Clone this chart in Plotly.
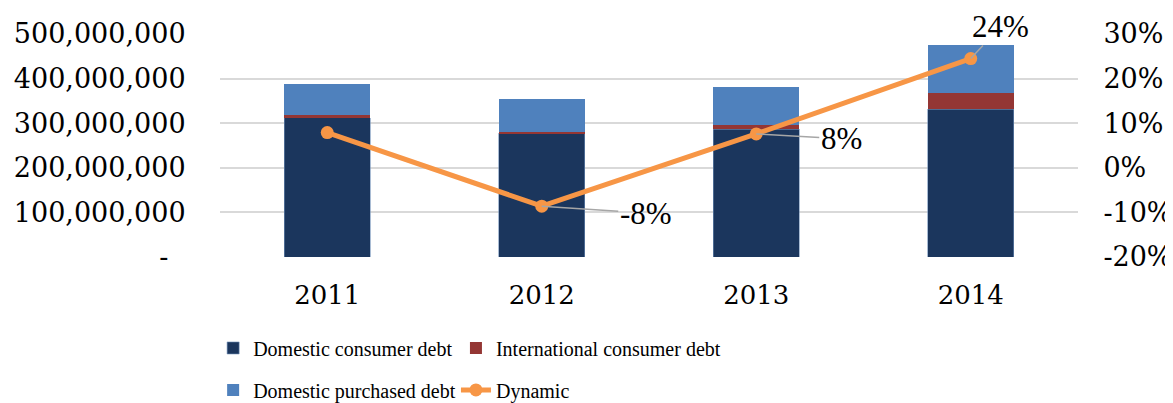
import plotly.graph_objects as go

years = ["2011", "2012", "2013", "2014"]
domestic_consumer = [312e6, 277e6, 286e6, 331e6]
international_consumer = [6e6, 3e6, 10e6, 36e6]
domestic_purchased = [69e6, 74e6, 85e6, 108e6]
dynamic = [0.079, -0.086, 0.076, 0.245]
dynamic_labels = ["", "-8%", "8%", "24%"]
label_offsets = [(0, 0), (104, 7), (85, 5), (30, -32)]

left_tickvals = [0, 1e8, 2e8, 3e8, 4e8, 5e8]
left_ticktext = ["-\u00a0\u00a0", "100,000,000", "200,000,000", "300,000,000", "400,000,000", "500,000,000"]
right_tickvals = [-0.2, -0.1, 0.0, 0.1, 0.2, 0.3]
right_ticktext = ["-20%", "-10%", "0%", "10%", "20%", "30%"]

NAVY = "#1b365d"
RED = "#943634"
BLUE = "#4f81bd"
ORANGE = "#f79646"

tick_font = dict(family="DejaVu Serif", size=27, color="#000000")
xtick_font = dict(family="DejaVu Serif", size=26, color="#000000")
legend_font = dict(family="Liberation Serif", size=20, color="#000000")

fig = go.Figure()
fig.add_trace(go.Bar(x=years, y=domestic_consumer, name="Domestic consumer debt",
                     marker=dict(color=NAVY, line=dict(color="#6f8fb8", width=0.6)), legend="legend"))
fig.add_trace(go.Bar(x=years, y=international_consumer, name="International consumer debt",
                     marker=dict(color=RED, line=dict(width=0)), legend="legend2"))
fig.add_trace(go.Bar(x=years, y=domestic_purchased, name="Domestic purchased debt",
                     marker=dict(color=BLUE, line=dict(width=0)), legend="legend3"))
fig.add_trace(go.Scatter(x=years, y=dynamic, name="Dynamic", yaxis="y2", mode="lines+markers",
                         line=dict(color=ORANGE, width=5), marker=dict(color=ORANGE, size=13),
                         legend="legend4"))

# annotations on a category axis are placed by category index
for i, (v, lab, (ax, ay)) in enumerate(zip(dynamic, dynamic_labels, label_offsets)):
    if not lab:
        continue
    fig.add_annotation(x=i, y=v, xref="x", yref="y2", text=lab, showarrow=True, arrowhead=0,
                       arrowwidth=1.5, arrowcolor="#a6a6a6", ax=ax, ay=ay,
                       font=dict(family="Liberation Serif", size=31, color="#000000"))


def legend_box(x, y):
    return dict(orientation="h", x=x, xanchor="left", y=y, yanchor="middle",
                font=legend_font, bgcolor="rgba(0,0,0,0)")


# the page body has an 8px margin, so the figure is drawn 8px smaller
fig.update_layout(
    width=1165, height=395,
    margin=dict(l=212, r=95, t=26, b=146, autoexpand=False),
    paper_bgcolor="white", plot_bgcolor="white",
    barmode="stack", bargap=0.6,
    xaxis=dict(type="category", categoryorder="array", categoryarray=years,
               range=[-0.5, 3.5], autorange=False,
               showgrid=False, showline=False, tickfont=xtick_font, automargin=False,
               ticks="outside", ticklen=15, tickcolor="rgba(0,0,0,0)"),
    yaxis=dict(range=[0, 5e8], autorange=False, tickvals=left_tickvals, ticktext=left_ticktext,
               showgrid=True, gridcolor="#d9d9d9", gridwidth=1.5, zeroline=False,
               showline=False, tickfont=tick_font, automargin=False,
               ticks="outside", ticklen=28, tickcolor="rgba(0,0,0,0)"),
    yaxis2=dict(range=[-0.2, 0.3], autorange=False, tickvals=right_tickvals, ticktext=right_ticktext,
                overlaying="y", side="right", showgrid=False, zeroline=False,
                showline=False, tickfont=tick_font, automargin=False,
                ticks="outside", ticklen=19, tickcolor="rgba(0,0,0,0)"),
    legend=legend_box(-0.008, -0.408),
    legend2=legend_box(0.275, -0.408),
    legend3=legend_box(-0.008, -0.596),
    legend4=legend_box(0.275, -0.596),
    showlegend=True,
)

fig.write_html("out.html")
